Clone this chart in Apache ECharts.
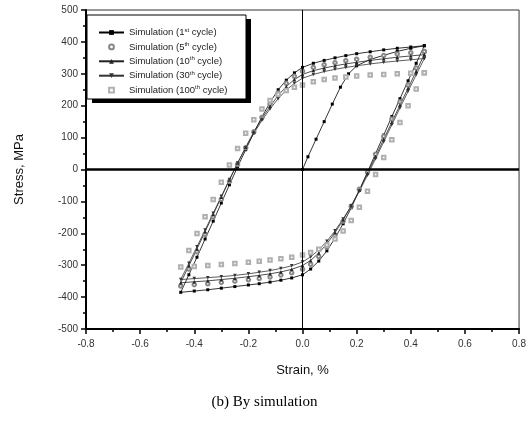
<!DOCTYPE html>
<html><head><meta charset="utf-8">
<script src="https://cdn.jsdelivr.net/npm/echarts@6/dist/echarts.min.js"></script>
<style>html,body{margin:0;padding:0;background:#fff}#c{width:529px;height:422px}</style>
</head><body><div id="c"></div>
<script>
// Tick labels
const xTicks = [-0.8, -0.6, -0.4, -0.2, 0.0, 0.2, 0.4, 0.6, 0.8];
const yTicks = [-500, -400, -300, -200, -100, 0, 100, 200, 300, 400, 500];
const seriesNames = ['Simulation (1st cycle)', 'Simulation (5th cycle)', 'Simulation (10th cycle)', 'Simulation (30th cycle)', 'Simulation (100th cycle)'];

// 1st cycle: initial loading, unloading branch, reloading branch  [strain %, stress MPa]
const cycle1Initial = [[0,0],[0.02,40],[0.05,95],[0.08,150],[0.11,205],[0.14,258],[0.17,300],[0.20,325],[0.25,345],[0.30,358],[0.35,370],[0.40,380],[0.45,388]];
const cycle1Down = [[0.45,388],[0.42,333],[0.39,278],[0.36,222],[0.33,166],[0.30,108],[0.27,50],[0.24,-8],[0.21,-65],[0.18,-120],[0.15,-170],[0.12,-215],[0.09,-255],[0.06,-287],[0.03,-312],[0.00,-330],[-0.04,-340],[-0.08,-347],[-0.12,-353],[-0.16,-358],[-0.20,-362],[-0.25,-367],[-0.30,-372],[-0.35,-377],[-0.40,-381],[-0.45,-385]];
const cycle1Up = [[-0.45,-385],[-0.42,-330],[-0.39,-275],[-0.36,-218],[-0.33,-162],[-0.30,-105],[-0.27,-48],[-0.24,8],[-0.21,62],[-0.18,115],[-0.15,165],[-0.12,210],[-0.09,250],[-0.06,280],[-0.03,303],[0.00,320],[0.04,333],[0.08,342],[0.12,350],[0.16,357],[0.20,363],[0.25,369],[0.30,375],[0.35,380],[0.40,384],[0.45,388]];

const cycle5Down = [[0.45,370],[0.42,318],[0.39,265],[0.36,212],[0.33,158],[0.30,104],[0.27,48],[0.24,-8],[0.21,-62],[0.18,-115],[0.15,-162],[0.12,-205],[0.09,-243],[0.06,-273],[0.03,-297],[0.00,-313],[-0.04,-324],[-0.08,-331],[-0.12,-337],[-0.16,-342],[-0.20,-346],[-0.25,-350],[-0.30,-354],[-0.35,-358],[-0.40,-361],[-0.45,-365]];
const cycle5Up = [[-0.45,-365],[-0.42,-312],[-0.39,-258],[-0.36,-203],[-0.33,-148],[-0.30,-93],[-0.27,-38],[-0.24,16],[-0.21,68],[-0.18,118],[-0.15,163],[-0.12,205],[-0.09,240],[-0.06,270],[-0.03,292],[0.00,308],[0.04,320],[0.08,328],[0.12,335],[0.16,341],[0.20,346],[0.25,352],[0.30,357],[0.35,362],[0.40,366],[0.45,370]];

const cycle10Down = [[0.45,360],[0.42,308],[0.39,255],[0.36,202],[0.33,148],[0.30,95],[0.27,41],[0.24,-12],[0.21,-64],[0.18,-114],[0.15,-158],[0.12,-198],[0.09,-233],[0.06,-262],[0.03,-285],[0.00,-301],[-0.04,-313],[-0.08,-321],[-0.12,-327],[-0.16,-332],[-0.20,-336],[-0.25,-341],[-0.30,-345],[-0.35,-349],[-0.40,-352],[-0.45,-355]];
const cycle10Up = [[-0.45,-355],[-0.42,-302],[-0.39,-249],[-0.36,-195],[-0.33,-141],[-0.30,-87],[-0.27,-33],[-0.24,20],[-0.21,70],[-0.18,118],[-0.15,160],[-0.12,198],[-0.09,232],[-0.06,260],[-0.03,282],[0.00,298],[0.04,310],[0.08,318],[0.12,325],[0.16,331],[0.20,336],[0.25,342],[0.30,347],[0.35,352],[0.40,356],[0.45,360]];

const cycle30Down = [[0.45,348],[0.42,297],[0.39,245],[0.36,193],[0.33,140],[0.30,87],[0.27,34],[0.24,-18],[0.21,-68],[0.18,-114],[0.15,-155],[0.12,-192],[0.09,-225],[0.06,-252],[0.03,-274],[0.00,-290],[-0.04,-302],[-0.08,-310],[-0.12,-317],[-0.16,-322],[-0.20,-327],[-0.25,-332],[-0.30,-336],[-0.35,-339],[-0.40,-342],[-0.45,-345]];
const cycle30Up = [[-0.45,-345],[-0.42,-294],[-0.39,-242],[-0.36,-190],[-0.33,-137],[-0.30,-84],[-0.27,-31],[-0.24,20],[-0.21,68],[-0.18,113],[-0.15,154],[-0.12,190],[-0.09,222],[-0.06,249],[-0.03,270],[0.00,286],[0.04,298],[0.08,307],[0.12,314],[0.16,320],[0.20,325],[0.25,331],[0.30,336],[0.35,340],[0.40,344],[0.45,348]];

const cycle100Down = [[0.45,303],[0.42,252],[0.39,200],[0.36,147],[0.33,93],[0.30,38],[0.27,-16],[0.24,-68],[0.21,-118],[0.18,-160],[0.15,-193],[0.12,-218],[0.09,-237],[0.06,-250],[0.03,-260],[0.00,-268],[-0.04,-275],[-0.08,-280],[-0.12,-284],[-0.16,-288],[-0.20,-291],[-0.25,-295],[-0.30,-298],[-0.35,-301],[-0.40,-304],[-0.45,-306]];
const cycle100Up = [[-0.45,-306],[-0.42,-254],[-0.39,-201],[-0.36,-148],[-0.33,-94],[-0.30,-40],[-0.27,14],[-0.24,66],[-0.21,114],[-0.18,156],[-0.15,190],[-0.12,216],[-0.09,235],[-0.06,248],[-0.03,258],[0.00,265],[0.04,275],[0.08,282],[0.12,287],[0.16,290],[0.20,293],[0.25,296],[0.30,298],[0.35,300],[0.40,302],[0.45,303]];

const chart = echarts.init(document.getElementById('c'), null, {renderer: 'canvas'});
const sans = 'Liberation Sans, Arial, sans-serif';
function mk(name, data, o) {
  return Object.assign({
    name: name, type: 'line', data: data, showSymbol: true, showAllSymbol: true,
    animation: false, z: 3
  }, o);
}
const supMap = {'1st':'1{s|st}','5th':'5{s|th}','10th':'10{s|th}','30th':'30{s|th}','100th':'100{s|th}'};
chart.setOption({
  animation: false,
  grid: {left: 86, right: 8, top: 10, bottom: 93, show: true, borderColor: '#333', borderWidth: 1},
  xAxis: {
    type: 'value', min: xTicks[0], max: xTicks[xTicks.length-1], interval: 0.2,
    name: 'Strain, %', nameLocation: 'middle', nameGap: 35,
    nameTextStyle: {fontFamily: sans, fontSize: 13, color: '#111'},
    axisLine: {show: true, onZero: false, lineStyle: {color: '#000', width: 2}},
    axisTick: {show: true, length: 5, lineStyle: {color: '#000', width: 1.5}},
    minorTick: {show: true, splitNumber: 2, length: 3, lineStyle: {color: '#000', width: 1.5}},
    splitLine: {show: false},
    axisLabel: {margin: 10, fontFamily: sans, fontSize: 10, color: '#333', formatter: v => v.toFixed(1)}
  },
  yAxis: {
    type: 'value', min: yTicks[0], max: yTicks[yTicks.length-1], interval: 100,
    name: 'Stress, MPa', nameLocation: 'middle', nameGap: 60,
    nameTextStyle: {fontFamily: sans, fontSize: 13, color: '#111'},
    axisLine: {show: true, onZero: false, lineStyle: {color: '#000', width: 2}},
    axisTick: {show: true, length: 5, lineStyle: {color: '#000', width: 1.5}},
    minorTick: {show: true, splitNumber: 2, length: 3, lineStyle: {color: '#000', width: 1.5}},
    splitLine: {show: false},
    axisLabel: {margin: 8, fontFamily: sans, fontSize: 10, color: '#333'}
  },
  legend: {
    orient: 'vertical', left: 98, top: 27, itemGap: 3.4, itemWidth: 25, itemHeight: 6, padding: 0,
    data: seriesNames,
    textStyle: {fontFamily: sans, fontSize: 9.5, color: '#222', lineHeight: 11, rich: {s: {fontSize: 6, verticalAlign: 'top', lineHeight: 6, padding: [0,0,4,0]}}},
    formatter: function (n) { return n.replace(/(\d+)(st|th)/, (m) => supMap[m]); }
  },
  graphic: [
    {type: 'rect', shape: {x: 92, y: 19, width: 159, height: 84}, style: {fill: '#000'}, z: 1, silent: true},
    {type: 'rect', shape: {x: 87, y: 15, width: 159, height: 84}, style: {fill: '#fff', stroke: '#000', lineWidth: 1}, z: 2, silent: true},
    {type: 'text', left: 'center', top: 395, style: {text: '(b) By simulation', font: '15px "Liberation Serif", "Times New Roman", serif', fill: '#000'}}
  ],
  series: [
    mk(seriesNames[0], cycle1Initial.concat(cycle1Down.slice(1), cycle1Up.slice(1)), {
      symbol: 'rect', symbolSize: 3, itemStyle: {color: '#000'}, lineStyle: {color: '#000', width: 0.8},
      markLine: {silent: true, symbol: 'none', label: {show: false}, animation: false,
        data: [{yAxis: 0, lineStyle: {color: '#000', width: 2.5, type: 'solid'}}, {xAxis: 0, lineStyle: {color: '#000', width: 1, type: 'solid'}}]}
    }),
    mk(seriesNames[1], cycle5Down.concat(cycle5Up.slice(1)), {
      symbol: 'emptyCircle', symbolSize: 3.5, itemStyle: {color: '#888', borderWidth: 1}, lineStyle: {width: 0, opacity: 0}
    }),
    mk(seriesNames[2], cycle10Down.concat(cycle10Up.slice(1)), {
      symbol: 'triangle', symbolSize: 3.5, itemStyle: {color: '#222'}, lineStyle: {color: '#222', width: 0.8}
    }),
    mk(seriesNames[3], cycle30Down.concat(cycle30Up.slice(1)), {
      symbol: 'path://M0,0 L10,0 L5,10 Z', symbolSize: 3.5, itemStyle: {color: '#333'}, lineStyle: {color: '#333', width: 0.8}
    }),
    mk(seriesNames[4], cycle100Down.concat(cycle100Up.slice(1)), {
      symbol: 'emptyRect', symbolSize: 3.5, itemStyle: {color: '#b0b0b0', borderWidth: 1}, lineStyle: {width: 0, opacity: 0}
    })
  ]
});
</script></body></html>
